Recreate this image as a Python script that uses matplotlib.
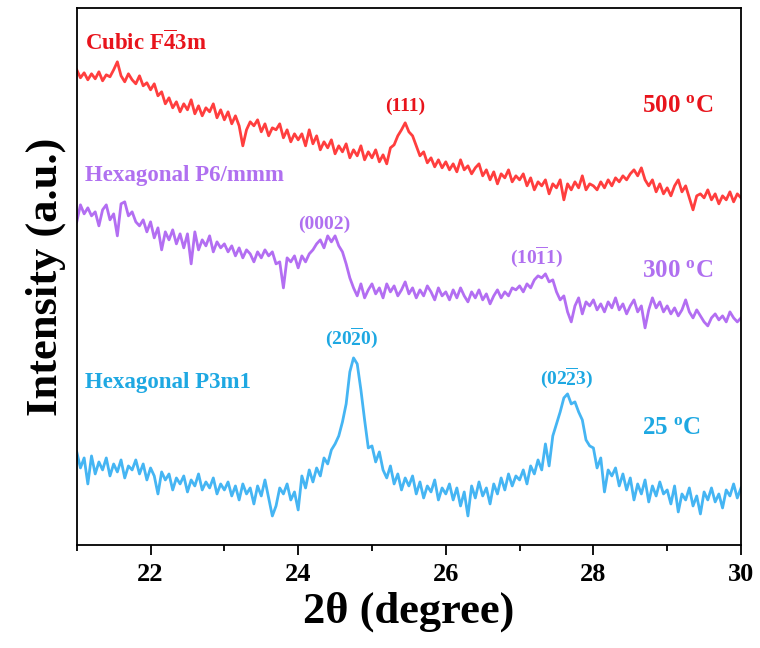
import numpy as np
import matplotlib
matplotlib.use("Agg")
import matplotlib.pyplot as plt
from matplotlib.ticker import MultipleLocator

# 2theta grid, 0.05 degree step
two_theta = np.round(np.arange(21.0, 30.0001, 0.05), 2)

# 500 C pattern (cubic)
int_500 = [
    475, 467, 472, 465, 471, 466, 473, 464, 470, 468, 475, 483, 469, 463, 471, 465, 461, 469, 459, 462,
    455, 461, 449, 453, 441, 447, 437, 443, 433, 441, 435, 445, 431, 439, 429, 437, 433, 441, 427, 435,
    425, 433, 421, 429, 419, 399, 415, 423, 419, 425, 413, 421, 409, 417, 415, 421, 407, 415, 403, 411,
    405, 411, 399, 415, 401, 409, 395, 403, 397, 405, 391, 399, 393, 401, 387, 395, 389, 399, 385, 393,
    387, 395, 383, 390, 381, 397, 400, 409, 415, 422, 413, 409, 399, 389, 393, 382, 387, 378, 385, 377,
    383, 375, 381, 373, 385, 375, 379, 371, 377, 381, 369, 375, 365, 373, 361, 371, 367, 375, 363, 369,
    365, 371, 359, 367, 355, 363, 359, 365, 351, 361, 357, 365, 345, 361, 355, 363, 357, 369, 355, 361,
    359, 355, 363, 357, 365, 359, 367, 363, 369, 365, 371, 375, 369, 377, 365, 359, 365, 353, 361, 351,
    357, 349, 359, 365, 353, 359, 347, 335, 349, 351, 347, 355, 345, 351, 341, 349, 345, 353, 343, 351, 347,
]

# 300 C pattern (hexagonal P6/mmm)
int_300 = [
    323, 340, 331, 337, 329, 333, 319, 335, 340, 325, 331, 309, 341, 343, 329, 333, 323, 319, 325, 313,
    323, 307, 317, 295, 313, 305, 315, 301, 311, 297, 311, 281, 313, 295, 305, 299, 309, 293, 303, 297,
    301, 293, 299, 289, 297, 287, 295, 291, 283, 293, 287, 295, 289, 293, 281, 283, 257, 287, 283, 289,
    277, 289, 283, 291, 295, 301, 305, 297, 309, 303, 309, 299, 293, 281, 267, 257, 249, 261, 247, 255,
    261, 251, 257, 247, 261, 253, 259, 249, 255, 263, 251, 257, 247, 255, 249, 259, 253, 245, 257, 249,
    253, 245, 255, 247, 257, 249, 243, 253, 247, 255, 245, 251, 241, 249, 255, 247, 253, 249, 257, 255,
    259, 253, 261, 257, 265, 269, 267, 271, 263, 265, 253, 245, 249, 233, 223, 239, 247, 231, 243, 239,
    245, 235, 241, 233, 243, 237, 247, 235, 241, 231, 239, 245, 233, 239, 217, 235, 247, 237, 243, 233,
    239, 231, 237, 229, 235, 245, 233, 227, 235, 229, 223, 219, 227, 231, 225, 229, 223, 233, 227, 223, 227,
]

# 25 C pattern (hexagonal P3m1)
int_25 = [
    93, 77, 87, 61, 89, 71, 83, 75, 87, 69, 81, 73, 85, 67, 79, 75, 85, 71, 81, 65,
    77, 69, 51, 73, 65, 71, 55, 67, 61, 69, 53, 65, 59, 71, 55, 63, 57, 67, 51, 61,
    55, 63, 49, 59, 45, 61, 51, 57, 41, 59, 49, 65, 47, 29, 39, 57, 51, 61, 45, 53,
    35, 69, 57, 75, 63, 77, 69, 87, 81, 95, 101, 109, 123, 141, 173, 187, 181, 155, 125, 97,
    99, 83, 93, 75, 67, 79, 61, 71, 55, 67, 59, 69, 51, 63, 47, 59, 53, 65, 45, 57,
    51, 61, 45, 57, 39, 53, 29, 59, 47, 63, 49, 57, 41, 61, 51, 67, 55, 71, 59, 69,
    65, 75, 61, 79, 71, 85, 75, 101, 79, 109, 121, 133, 147, 151, 141, 143, 133, 125, 105, 99,
    97, 77, 87, 53, 75, 69, 77, 59, 71, 55, 67, 45, 61, 51, 65, 43, 59, 49, 63, 51,
    55, 41, 59, 33, 51, 45, 57, 39, 49, 31, 53, 45, 57, 43, 51, 37, 55, 49, 61, 47, 57,
]

line_colors = ["#ff3e3e", "#b36ef2", "#45b5f3"]
text_colors = ["#e8141c", "#b070f0", "#1ea8e2"]


def main():
    plt.rcParams["font.family"] = ["Liberation Serif", "DejaVu Serif"]
    plt.rcParams["font.weight"] = "bold"
    plt.rcParams["mathtext.fontset"] = "custom"
    plt.rcParams["mathtext.rm"] = "Liberation Serif:bold"
    plt.rcParams["mathtext.bf"] = "Liberation Serif:bold"
    plt.rcParams["mathtext.it"] = "Liberation Serif:bold"

    fig = plt.figure(figsize=(7.6, 6.48), dpi=100)
    ax = fig.add_axes([0.101, 0.159, 0.874, 0.829])

    for y, c in zip([int_500, int_300, int_25], line_colors):
        ax.plot(two_theta, y, color=c, lw=2.0)

    ax.set_xlim(21, 30)
    ax.set_ylim(0, 537)
    ax.xaxis.set_major_locator(MultipleLocator(2))
    ax.xaxis.set_minor_locator(MultipleLocator(1))
    ax.set_yticks([])
    ax.tick_params(axis="x", which="major", direction="out", length=7, width=1.3,
                   labelsize=19, pad=6)
    ax.tick_params(axis="x", which="minor", direction="out", length=4, width=1.3)
    for s in ax.spines.values():
        s.set_linewidth(1.3)

    ax.set_xlabel(r"2θ (degree)", fontsize=32, fontweight="bold", labelpad=4)
    ax.set_ylabel("Intensity (a.u.)", fontsize=32, fontweight="bold", labelpad=8)

    # phase names
    ax.text(21.11, 502, r"Cubic F$\overline{4}$3m", color=text_colors[0], fontsize=16.5,
            fontweight="bold", va="center", ha="left")
    ax.text(21.11, 369, "Hexagonal P6/mmm", color=text_colors[1], fontsize=16.5,
            fontweight="bold", va="center", ha="left")
    ax.text(21.11, 162, "Hexagonal P3m1", color=text_colors[2], fontsize=16.5,
            fontweight="bold", va="center", ha="left")

    # temperatures
    ax.text(28.66, 439, r"500 $^{\rm o}$C", color=text_colors[0], fontsize=18,
            fontweight="bold", va="center", ha="left")
    ax.text(28.66, 274, r"300 $^{\rm o}$C", color=text_colors[1], fontsize=18,
            fontweight="bold", va="center", ha="left")
    ax.text(28.66, 117, r"25 $^{\rm o}$C", color=text_colors[2], fontsize=18,
            fontweight="bold", va="center", ha="left")

    # reflections
    ax.text(25.45, 438, "(111)", color=text_colors[0], fontsize=14,
            fontweight="bold", ha="center", va="center")
    ax.text(24.36, 321, "(0002)", color=text_colors[1], fontsize=14,
            fontweight="bold", ha="center", va="center")
    ax.text(27.23, 288, r"(10$\overline{1}$1)", color=text_colors[1], fontsize=14,
            fontweight="bold", ha="center", va="center")
    ax.text(24.73, 207, r"(20$\overline{2}$0)", color=text_colors[2], fontsize=14,
            fontweight="bold", ha="center", va="center")
    ax.text(27.64, 167, r"(02$\overline{2}$3)", color=text_colors[2], fontsize=14,
            fontweight="bold", ha="center", va="center")

    fig.savefig("out.png", dpi=100)


main()
